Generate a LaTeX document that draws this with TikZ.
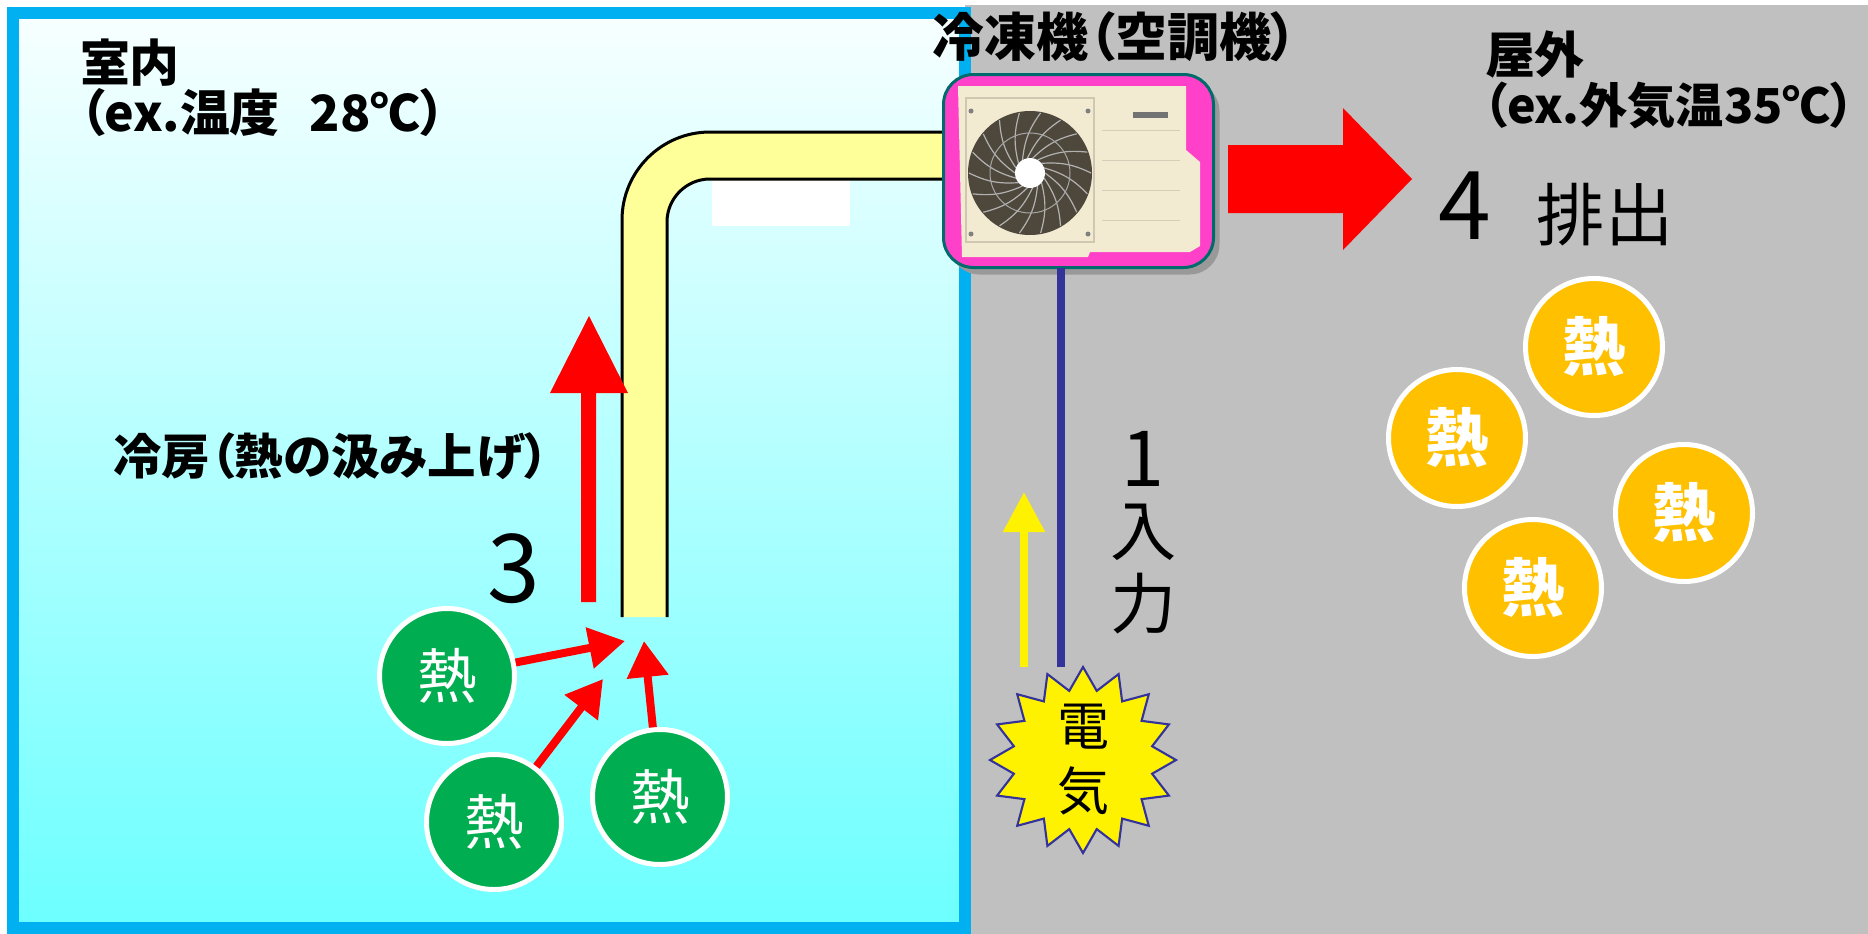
\documentclass[tikz,border=0pt]{standalone}
\usepackage{fontspec}
\setmainfont{Noto Sans CJK JP}[RawFeature=+palt]
\usepackage{tikz}
\usetikzlibrary{shapes,shapes.geometric,arrows.meta,positioning,calc,shadows}
\definecolor{RoomBlue}{HTML}{00B0F0}
\definecolor{RoomTop}{HTML}{F8FFFF}
\definecolor{RoomBottom}{HTML}{6CFFFF}
\definecolor{OutdoorGray}{HTML}{C0C0C0}
\definecolor{HeatGreen}{HTML}{00AD50}
\definecolor{HeatOrange}{HTML}{FFC000}
\definecolor{PipeYellow}{HTML}{FFFF99}
\definecolor{WireNavy}{HTML}{333399}
\definecolor{UnitPink}{HTML}{FF40C8}
\definecolor{UnitPinkLight}{HTML}{FFB6EA}
\definecolor{UnitEdge}{HTML}{006B6B}
\definecolor{UnitBeige}{HTML}{F3EAD2}
\definecolor{FanDark}{HTML}{4E473B}
\tikzset{diagram layout/.style={%
    x=0.1mm,%
    y=-0.1mm,%
    every node/.style={%
        inner sep=0pt, outer sep=0pt, font=\fontsize{14.2}{17}\selectfont%
    }%
}}
\tikzset{heat indoor/.style={%
    circle, fill=HeatGreen, draw=white, line width=0.5mm, outer sep=0.25mm,%
    minimum size=13.5mm, text=white, font=\fontsize{17}{20}\selectfont%
}}
\tikzset{heat outdoor/.style={%
    circle, fill=HeatOrange, draw=white, line width=0.5mm, outer sep=0.25mm,%
    minimum size=13.7mm, text=white, font=\fontsize{18}{20}\selectfont\bfseries%
}}
\tikzset{heat flow/.style={%
    red, line width=0.8mm, -{Triangle[length=3.6mm,width=4mm]}%
}}
\tikzset{unit box/.style={%
    rectangle, rounded corners=3mm, minimum width=27mm, minimum height=19.3mm,%
    draw=UnitEdge, line width=0.3mm, top color=UnitPink, middle color=UnitPinkLight,%
    bottom color=UnitPink,%
    drop shadow={opacity=1, fill=black!40, shadow xshift=0.6mm, shadow yshift=-0.7mm}%
}}
\tikzset{spark/.style={%
    star, star points=16, star point ratio=1.32, minimum size=18.6mm,%
    fill=yellow, draw=WireNavy, line width=0.6pt%
}}
\begin{document}
\begin{tikzpicture}[diagram layout]
    \useasboundingbox (0,0) rectangle (1868,934);

    % outdoor side and room
    \fill[OutdoorGray] (965,5) rectangle (1868,934);
    \path[draw=RoomBlue, line width=1.2mm, top color=RoomTop, middle color=RoomTop!45!RoomBottom, bottom color=RoomBottom] (13,13) rectangle (965,928);
    \fill[white] (712,180) rectangle (850,226);

    % refrigerant pipe
    \path[fill=PipeYellow] (622,617) -- (622,220) arc[start angle=180, end angle=270, radius=88] -- (960,132) -- (960,179) -- (710,179) arc[start angle=270, end angle=180, radius=43] -- (667,617) -- cycle;
    \draw[line width=0.3mm] (622,617) -- (622,220) arc[start angle=180, end angle=270, radius=88] -- (960,132)
        (960,179) -- (710,179) arc[start angle=270, end angle=180, radius=43] -- (667,617);

    \fill[red] (581,602) -- (581,393) -- (550,393) -- (589,316) -- (628,393) -- (596,393) -- (596,602) -- cycle;

    \node[anchor=west] (indoor) at (80,63) {\bfseries 室内};
    \node[anchor=west] (indoortemp) at (80,113) {\bfseries （ex.温度\hspace{0.6em}28℃）};
    \node (cooling) at (331,456) {\fontsize{13.8}{16}\selectfont\bfseries 冷房（熱の汲み上げ）};
    \node (three) at (514,569) {\fontsize{27}{30}\selectfont 3};

    % heat picked up in the room
    \node[heat indoor] (heatA) at (447,676) {熱};
    \node[heat indoor] (heatB) at (494,822) {熱};
    \node[heat indoor] (heatC) at (660,797) {熱};
    \coordinate (tipA) at (625,641);
    \coordinate (tipB) at (603,679);
    \coordinate (tipC) at (644,641);
    \draw[heat flow] (heatA) -- (tipA);
    \draw[heat flow] (heatB) -- (tipB);
    \draw[heat flow] (heatC) -- (tipC);

    % outdoor unit
    \node (title) at (1115,37) {\fontsize{14.8}{17}\selectfont\bfseries 冷凍機（空調機）};
    \node[unit box] (unit) at (1078.5,171) {};
    \fill[UnitBeige] (958,86) -- (1186,86) -- (1186,150) -- (1200,162) -- (1200,246) -- (1190,252) -- (1090,252) -- (1088,257) -- (962,257) -- cycle;
    \draw[UnitBeige!85!black, line width=0.15mm] (966,98) rectangle (1094,242);
    \foreach \yy in {130,160,190,220}
        \draw[UnitBeige!88!black, line width=0.1mm] (1102,\yy) -- (1180,\yy);
    \fill[black!55] (1133,112) rectangle (1168,118);
    \coordinate (fan) at (1030,173);
    \fill[FanDark] (fan) circle[radius=62];
    \foreach \a in {0,20,...,340}
        \draw[black!30!white, line width=0.12mm] ($(fan)+(\a:15)$) to[bend left=15] ($(fan)+(\a+40:61)$);
    \draw[black!35!white, line width=0.1mm] (fan) circle[radius=40];
    \fill[white] (fan) circle[radius=15];
    \foreach \p in {(971,111),(1088,111),(971,234),(1088,234)}
        \fill[black!50] \p circle[radius=2.5];

    \fill[red] (1228,145) -- (1343,145) -- (1343,108) -- (1412,179) -- (1343,250) -- (1343,213) -- (1228,213) -- cycle;

    % electric input
    \node[spark] (spark) at (1083,760) {};
    \node[align=center, font=\fontsize{14.8}{18.5}\selectfont] (sparktext) at (spark.center) {電\\気};
    \coordinate (wire) at (1061,0);
    \draw[WireNavy, line width=0.8mm] (wire |- unit.south) -- (wire |- spark.north);
    \coordinate (ytip) at (1024,492);
    \draw[yellow, line width=0.8mm, -{Triangle[length=4mm,width=4mm]}] (ytip |- spark.north) -- (ytip);
    \node (one) at (1143,459) {\fontsize{22}{24}\selectfont 1};
    \node[align=center, font=\fontsize{18.8}{21}\selectfont] (power) at (1144,569) {入\\力};

    % outside
    \node[anchor=west] (outdoor) at (1485,55) {\bfseries 屋外};
    \node[anchor=west] (outdoortemp) at (1483,105) {\fontsize{13.7}{17}\selectfont\bfseries （ex.外気温35℃）};
    \node (four) at (1465,206) {\fontsize{27}{30}\selectfont 4};
    \node (exhaust) at (1605,215) {\fontsize{19.4}{22}\selectfont 排出};
    \node[heat outdoor] (heatP) at (1594,347) {熱};
    \node[heat outdoor] (heatQ) at (1457,438) {熱};
    \node[heat outdoor] (heatR) at (1684,513) {熱};
    \node[heat outdoor] (heatS) at (1533,588) {熱};
\end{tikzpicture}
\end{document}
